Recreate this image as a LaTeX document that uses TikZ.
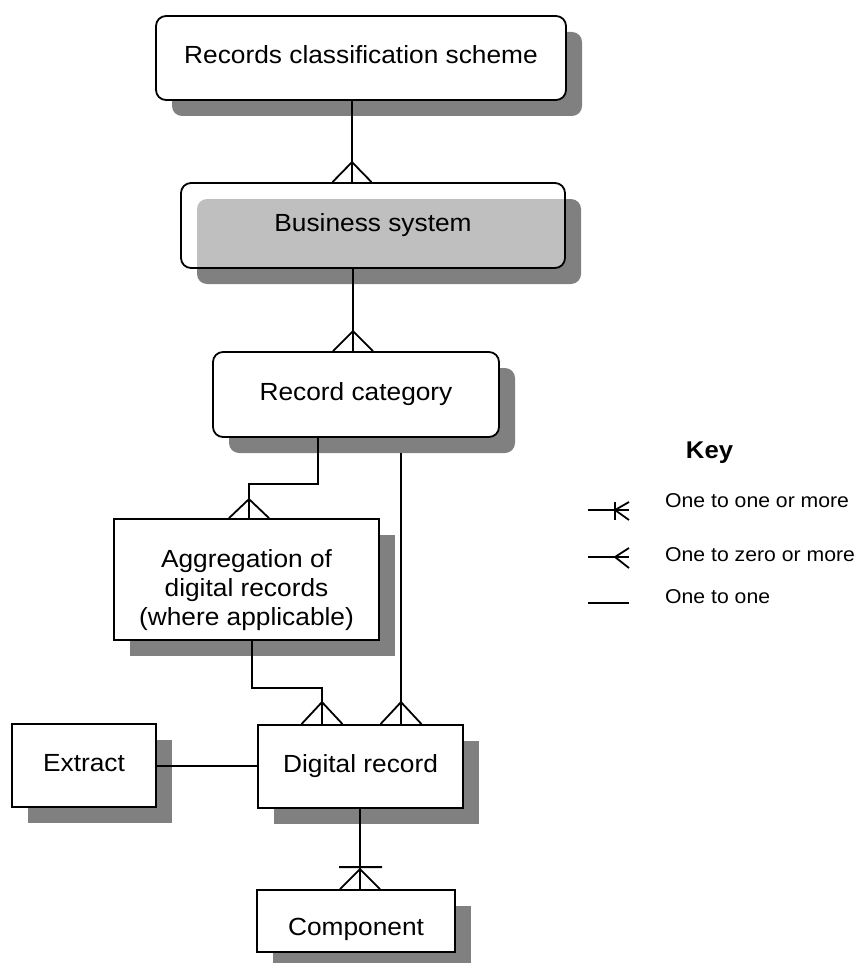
\documentclass[tikz,border=0pt]{standalone}
\usepackage{fontspec}
\setmainfont{Liberation Sans}[FakeStretch=1.06]
\usetikzlibrary{shadows,calc}
\begin{document}
\begin{tikzpicture}[x=1pt,y=-1pt,
  ent/.style={draw=black, line width=1.8pt, fill=white, inner sep=0pt,
    font=\fontsize{24.8}{29}\selectfont, text height=18pt, text depth=6pt,
    drop shadow={shadow xshift=16pt, shadow yshift=-16pt, opacity=1, fill=black!50, draw=none}},
  rnd/.style={rounded corners=10pt},
  conn/.style={line width=1.8pt},
  keytxt/.style={font=\fontsize{20}{24}\selectfont, anchor=base west, inner sep=0pt}]
\useasboundingbox (0,0) rectangle (856,963);
% entities
\node[ent,rnd,minimum width=410pt,minimum height=84pt] (rcs) at (361,58) {Records classification scheme};
\node[ent,rnd,fill opacity=0.5,text opacity=1,minimum width=384pt,minimum height=85pt] (bs) at (373,225.5) {Business system};
\node[ent,rnd,minimum width=286pt,minimum height=85pt] (rc) at (356,394.5) {Record category};
\node[ent,align=center,text height=97pt,text depth=6pt,minimum width=265pt,minimum height=121pt] (agg) at (246.5,579.5) {Aggregation of\\digital records\\(where applicable)};
\node[ent,minimum width=205pt,minimum height=83pt] (dr) at (360.5,766.5) {Digital record};
\node[ent,minimum width=144pt,minimum height=83pt] (ext) at (84,765.5) {Extract};
\node[ent,text height=34pt,text depth=6pt,minimum width=198pt,minimum height=62pt] (comp) at (356,921) {Component};
% helper coordinates
\coordinate (x1) at (352,0);
\coordinate (x2) at (353,0);
\coordinate (k1) at (318,484);
\coordinate (k2) at (249,484);
\coordinate (k3) at (401,453);
\coordinate (k4) at (252,688);
\coordinate (k5) at (322,688);
\coordinate (k6) at (0,766);
\coordinate (k7) at (360,0);
% connectors
\draw[conn] (rcs.south -| x1) -- (bs.north -| x1) ++(-19.5,0) -- ++(19.5,-20) -- ++(19.5,20);
\draw[conn] (bs.south -| x2) -- (rc.north -| x2) ++(-20,0) -- ++(20,-20) -- ++(20,20);
\draw[conn] (rc.south -| k1) -- (k1) -- (k2) -- (agg.north -| k2) ++(-20,0) -- ++(20,-19) -- ++(20,19);
\draw[conn] (k3) -- (dr.north -| k3) ++(-20.5,0) -- ++(20.5,-22) -- ++(20.5,22);
\draw[conn] (agg.south -| k4) -- (k4) -- (k5) -- (dr.north -| k5) ++(-20.5,0) -- ++(20.5,-22) -- ++(20.5,22);
\draw[conn] (ext.east |- k6) -- (dr.west |- k6);
\draw[conn] (dr.south -| k7) -- (comp.north -| k7) ++(-20,0) -- ++(20,-20) -- ++(20,20) ++(-41,-22) -- ++(43,0);
% key
\node[font=\bfseries\fontsize{24.2}{29}\selectfont, anchor=base, inner sep=0pt] (key) at (709.5,458) {Key};
\node[keytxt] (kt1) at (665,507) {One to one or more};
\node[keytxt] (kt2) at (665,561) {One to zero or more};
\node[keytxt] (kt3) at (665,603) {One to one};
\coordinate (l1a) at (588,510); \coordinate (l1b) at (629,510);
\coordinate (l2a) at (588,557); \coordinate (l2b) at (629,557);
\coordinate (l3a) at (588,603); \coordinate (l3b) at (629,603);
\draw[conn] (l1a) -- (l1b);
\draw[conn] ($(l1b)+(-14,-8)$) -- ++(0,18);
\draw[conn] ($(l1b)+(0,-8)$) -- ($(l1b)+(-14,0)$) -- ($(l1b)+(0,10)$);
\draw[conn] (l2a) -- (l2b);
\draw[conn] ($(l2b)+(0,-9)$) -- ($(l2b)+(-14,0)$) -- ($(l2b)+(0,11)$);
\draw[conn] (l3a) -- (l3b);
\end{tikzpicture}
\end{document}
